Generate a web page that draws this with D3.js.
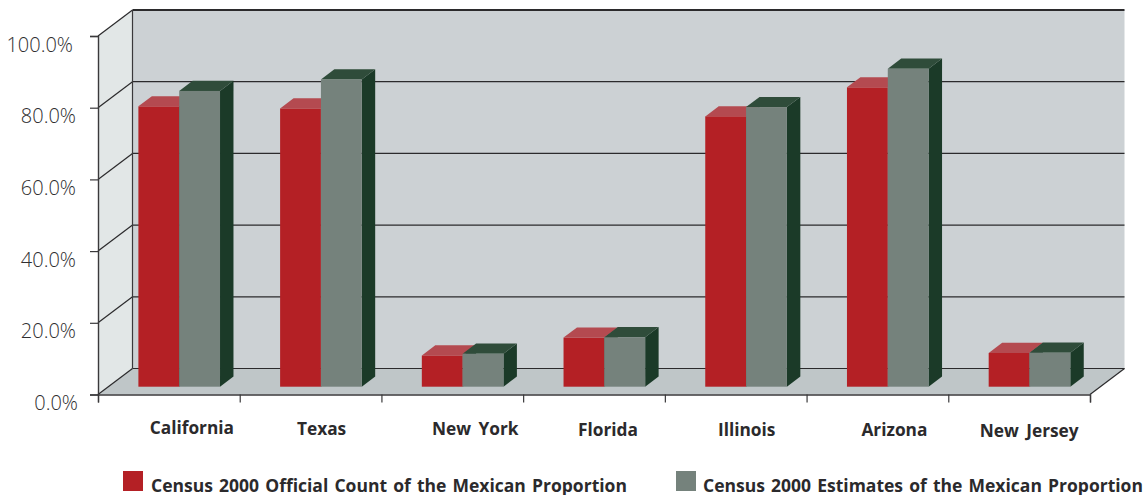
<!DOCTYPE html>
<html>
<head>
<meta charset="utf-8">
<script src="https://cdn.jsdelivr.net/npm/d3@7"></script>
<style>
  html, body { margin: 0; padding: 0; background: #fff; }
  svg { display: block; }
  text { font-family: "Open Sans", "Noto Sans", sans-serif; fill: #2b2a2c; }
  .tick-label { font-size: 20px; font-weight: 300; fill: #2f2e30; }
  .cat-label { font-size: 17.3px; font-weight: 700; word-spacing: 3px; }
  .legend-label { font-size: 17.5px; font-weight: 700; word-spacing: 1.6px; }
</style>
</head>
<body>
<svg id="chart" width="1146" height="495"></svg>
<script>
const categories = ['California', 'Texas', 'New York', 'Florida', 'Illinois', 'Arizona', 'New Jersey'];
const officialCount = [78.2, 77.6, 8.7, 13.7, 75.4, 83.5, 9.4];
const estimates = [82.5, 85.7, 9.2, 13.8, 78.0, 88.7, 9.5];
const yTicks = [0, 20, 40, 60, 80, 100];
const seriesNames = [
    'Census 2000 Official Count of the Mexican Proportion',
    'Census 2000 Estimates of the Mexican Proportion'
];

// box geometry
const boxLeft = 98, boxRight = 1090, boxBottom = 394.5, boxTop = 36;
const depthX = 34.5, depthY = -26;
const barPlane = 0.3, barDepth = 0.39;

// hand placed category labels, the original ones are not centred on the bands
const labelNudge = [23, 11, 23, 14, 11, 17, 10];
const labelY = [434, 435, 435, 436, 436, 436, 437];

const svg = d3.select('#chart');
const x = d3.scaleBand().domain(categories).range([boxLeft, boxRight]).paddingInner(0.424).paddingOuter(0.212);
const xEdges = d3.scaleLinear().domain([0, categories.length]).range([boxLeft, boxRight]);
const y = d3.scaleLinear().domain([0, 100]).range([boxBottom, boxTop]);

const poly = pts => pts.map(p => p.join(',')).join(' ');

function drawWalls() {
    const g = svg.append('g');
    const wallRight = boxRight + depthX;
    g.append('polygon').attr('fill', '#ccd1d4')
        .attr('points', poly([[boxLeft + depthX, boxTop + depthY], [wallRight, boxTop + depthY], [wallRight, boxBottom + depthY], [boxLeft + depthX, boxBottom + depthY]]));
    g.append('polygon').attr('fill', '#e2e7e7')
        .attr('points', poly([[boxLeft, boxTop], [boxLeft + depthX, boxTop + depthY], [boxLeft + depthX, boxBottom + depthY], [boxLeft, boxBottom]]));
    g.append('polygon').attr('fill', '#bfc6c8')
        .attr('points', poly([[boxLeft, boxBottom], [boxLeft + depthX, boxBottom + depthY], [wallRight, boxBottom + depthY], [boxRight, boxBottom]]));

    // grid on the back wall and down the side wall
    g.selectAll('.grid').data(yTicks).enter().append('line')
        .attr('x1', boxLeft + depthX).attr('x2', wallRight)
        .attr('y1', d => y(d) + depthY).attr('y2', d => y(d) + depthY)
        .attr('stroke', '#2b2a2c').attr('stroke-width', d => d === 100 ? 1.8 : 1.2);
    g.selectAll('.diag').data(yTicks).enter().append('line')
        .attr('x1', boxLeft).attr('x2', boxLeft + depthX)
        .attr('y1', d => y(d)).attr('y2', d => y(d) + depthY)
        .attr('stroke', '#2b2a2c').attr('stroke-width', 1.2);
    g.append('line')
        .attr('x1', boxLeft + depthX).attr('x2', boxLeft + depthX)
        .attr('y1', boxTop + depthY).attr('y2', boxBottom + depthY)
        .attr('stroke', '#3a393b').attr('stroke-width', 1.2);
    g.append('line')
        .attr('x1', boxRight).attr('x2', wallRight)
        .attr('y1', boxBottom).attr('y2', boxBottom + depthY)
        .attr('stroke', '#2b2a2c').attr('stroke-width', 1.2);
}

function drawBars(values, offset, colors) {
    const w = x.bandwidth() / 2;
    const dx = depthX * barPlane, dy = depthY * barPlane;
    const bx = depthX * barDepth, by = depthY * barDepth;
    const g = svg.append('g').selectAll('g')
        .data(categories.map((c, i) => ({ c, v: values[i] })))
        .enter().append('g');

    g.append('polygon').attr('fill', colors.side)
        .attr('points', d => {
            const x1 = x(d.c) + dx + offset * w + w;
            return poly([[x1, y(d.v) + dy], [x1 + bx, y(d.v) + dy + by], [x1 + bx, y(0) + dy + by], [x1, y(0) + dy]]);
        });
    g.append('polygon').attr('fill', colors.top)
        .attr('points', d => {
            const x0 = x(d.c) + dx + offset * w;
            return poly([[x0, y(d.v) + dy], [x0 + bx, y(d.v) + dy + by], [x0 + w + bx, y(d.v) + dy + by], [x0 + w, y(d.v) + dy]]);
        });
    g.append('rect').attr('fill', colors.front)
        .attr('x', d => x(d.c) + dx + offset * w)
        .attr('y', d => y(d.v) + dy)
        .attr('width', w)
        .attr('height', d => y(0) - y(d.v));
}

function drawAxes() {
    const yAxis = d3.axisLeft(y).tickValues(yTicks).tickSize(8).tickPadding(14)
        .tickFormat(d => d.toFixed(1) + '%');
    const gy = svg.append('g').attr('transform', `translate(${boxLeft},0)`).call(yAxis);
    gy.selectAll('text').attr('class', 'tick-label').attr('dy', '0.75em')
        .attr('dx', d => d === 100 ? -3 : (d === 0 ? 2 : 0));

    const xAxis = d3.axisBottom(xEdges).ticks(categories.length).tickSize(8).tickFormat('');
    svg.append('g').attr('transform', `translate(0,${boxBottom})`).call(xAxis);

    svg.selectAll('.domain').attr('stroke', '#3a393b').attr('stroke-width', 1.4);
    svg.selectAll('.tick line').attr('stroke', '#3a393b').attr('stroke-width', 1.2);

    svg.append('g').selectAll('text').data(categories).enter().append('text')
        .attr('class', 'cat-label')
        .attr('text-anchor', 'middle')
        .attr('x', (d, i) => x(d) + x.bandwidth() / 2 + labelNudge[i])
        .attr('y', (d, i) => labelY[i])
        .text(d => d);
}

function drawLegend() {
    const colors = ['#b42025', '#75827c'];
    const xs = [123, 676];
    const g = svg.append('g').selectAll('g').data(seriesNames).enter().append('g')
        .attr('transform', (d, i) => `translate(${xs[i]},471)`);
    g.append('rect').attr('width', 20).attr('height', 20).attr('fill', (d, i) => colors[i]);
    g.append('text').attr('class', 'legend-label').attr('x', (d, i) => i ? 27 : 28).attr('y', 20.5).text(d => d);
}

drawWalls();
drawBars(officialCount, 0, { front: '#b42025', top: '#b44a50', side: '#1b3a28' });
drawBars(estimates, 1, { front: '#75827c', top: '#2f4c3a', side: '#1b3a28' });
drawAxes();
drawLegend();
</script>
</body>
</html>
